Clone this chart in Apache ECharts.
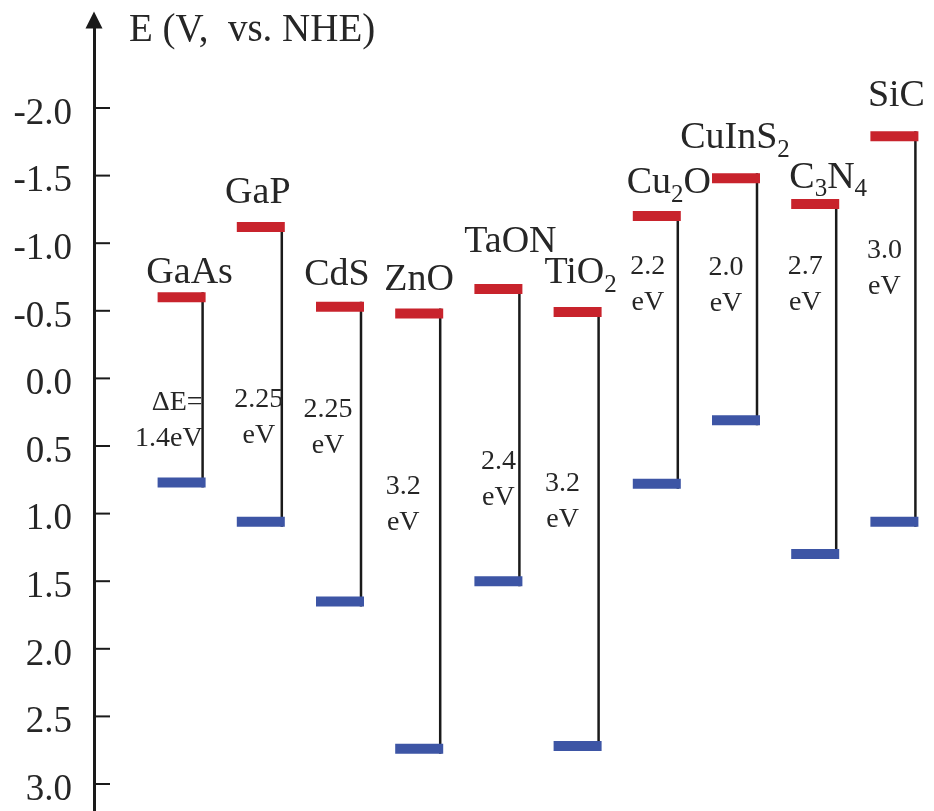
<!DOCTYPE html>
<html>
<head>
<meta charset="utf-8">
<script src="https://cdn.jsdelivr.net/npm/echarts@6/dist/echarts.min.js"></script>
<style>
  html, body { margin: 0; padding: 0; background: #fff; }
  #main { width: 934px; height: 811px; }
</style>
</head>
<body>
<div id="main"></div>
<script>
// band edges, V vs. NHE
const materials = ['GaAs', 'GaP', 'CdS', 'ZnO', 'TaON', 'TiO2', 'Cu2O', 'CuInS2', 'C3N4', 'SiC']
const conductionBand = [-0.60, -1.12, -0.53, -0.48, -0.66, -0.49, -1.20, -1.48, -1.29, -1.79]
const valenceBand = [0.77, 1.06, 1.65, 2.74, 1.50, 2.72, 0.78, 0.31, 1.30, 1.06]
const gapLabels = ['ΔE=\n1.4eV', '2.25\neV', '2.25\neV', '3.2\neV', '2.4\neV', '3.2\neV', '2.2\neV', '2.0\neV', '2.7\neV', '3.0\neV']
const tickValues = [-2.0, -1.5, -1.0, -0.5, 0.0, 0.5, 1.0, 1.5, 2.0, 2.5, 3.0]
const tickMin = -2.0
const tickMax = 3.0
const tickStep = 0.5

// label placement, px relative to the conduction band bar: [nameDx, nameDy, gapDx, gapDy, gapAlign]
const labelLayout = [
  [8, -24, 21, 123, 'right'],
  [-3, -34, -2, 191, 'center'],
  [-3, -32, -12, 121, 'center'],
  [0, -33, -16, 191, 'center'],
  [12, -47, 0, 191, 'center'],
  [3, -39, -15, 190, 'center'],
  [12, -33, -9, 69, 'center'],
  [-1, -40, -10, 107, 'center'],
  [13, -26, -10, 81, 'center'],
  [2, -40, -10, 132, 'center'],
]

const FONT = '"Liberation Serif", "DejaVu Serif", serif'
const TEXT = '#262626'
const AXIS = '#1a1a1a'
const RED = '#c8232c'
const BLUE = '#3d55a5'
// full axis extent (arrow end at the top)
const Y_MIN = -2.65
const Y_MAX = 3.2

// "Cu2O" -> rich text with subscript digits
const richName = (s) =>
  s.replace(/([A-Za-z]+)|(\d+)/g, (m, a, d) => (a ? '{m|' + a + '}' : '{s|' + d + '}'))

const chart = echarts.init(document.getElementById('main'))

const renderItem = (params, api) => {
  const i = params.dataIndex
  const top = api.coord([api.value(0), api.value(1)])
  const bot = api.coord([api.value(0), api.value(2)])
  const lay = labelLayout[i]
  const w = 48
  const h = 10
  const lineX = top[0] + 21
  return {
    type: 'group',
    children: [
      {
        type: 'line',
        shape: { x1: lineX, y1: top[1] - h / 2, x2: lineX, y2: bot[1] + h / 2 },
        style: { stroke: AXIS, lineWidth: 2.5 },
      },
      {
        type: 'rect',
        shape: { x: top[0] - w / 2, y: top[1] - h / 2, width: w, height: h },
        style: { fill: RED },
      },
      {
        type: 'rect',
        shape: { x: bot[0] - w / 2, y: bot[1] - h / 2, width: w, height: h },
        style: { fill: BLUE },
      },
      {
        type: 'text',
        x: top[0] + lay[0],
        y: top[1] + lay[1],
        style: {
          text: richName(materials[i]),
          align: 'center',
          verticalAlign: 'middle',
          fill: TEXT,
          rich: {
            m: { fontFamily: FONT, fontSize: 38, lineHeight: 40, fill: TEXT },
            s: { fontFamily: FONT, fontSize: 25, lineHeight: 16, padding: [24, 0, 0, 0], fill: TEXT },
          },
        },
      },
      {
        type: 'text',
        x: top[0] + lay[2],
        y: top[1] + lay[3],
        style: {
          text: gapLabels[i],
          fontFamily: FONT,
          fontSize: 28,
          lineHeight: 36,
          align: lay[4],
          verticalAlign: 'middle',
          fill: TEXT,
        },
      },
    ],
  }
}

// inward tick marks, drawn across the thin tick grid from its left edge (the axis line) to its right edge
const renderTick = (params, api) => {
  const a = api.coord([0, api.value(0)])
  const b = api.coord([1, api.value(0)])
  return {
    type: 'line',
    shape: { x1: a[0], y1: a[1], x2: b[0], y2: b[1] },
    style: { stroke: AXIS, lineWidth: 2 },
  }
}

const tickAxis = {
  type: 'value',
  inverse: true,
  min: tickMin,
  max: tickMax,
  interval: tickStep,
  axisLine: { show: false },
  axisTick: { show: false },
  axisLabel: { show: false },
  splitLine: { show: false },
}

const option = {
  backgroundColor: '#fff',
  animation: false,
  graphic: [
    {
      type: 'text',
      left: 129,
      top: 11,
      style: {
        text: 'E (V,  vs. NHE)',
        fontFamily: FONT,
        fontSize: 39,
        fill: TEXT,
      },
    },
  ],
  grid: [
    // tick marks, from the axis line inward
    { left: 94, top: 108, width: 16, height: 676 },
    // tick labels
    { left: 94, top: 114, width: 16, height: 676 },
    // band diagram
    { left: 142, top: 20, width: 800, bottom: 0 },
  ],
  xAxis: [
    { type: 'value', gridIndex: 0, min: 0, max: 1, show: false },
    { type: 'value', gridIndex: 1, show: false },
    { type: 'category', gridIndex: 2, data: materials, show: false },
  ],
  yAxis: [
    { ...tickAxis, gridIndex: 0 },
    {
      ...tickAxis,
      gridIndex: 1,
      axisLabel: {
        show: true,
        margin: 22,
        fontFamily: FONT,
        fontSize: 37,
        color: TEXT,
        formatter: (v) => v.toFixed(1),
      },
    },
    {
      type: 'value',
      gridIndex: 2,
      inverse: true,
      min: Y_MIN,
      max: Y_MAX,
      offset: 48,
      splitLine: { show: false },
      axisTick: { show: false },
      axisLabel: { show: false },
      axisLine: {
        show: true,
        symbol: ['none', 'triangle'],
        symbolSize: [17, 17],
        lineStyle: { color: AXIS, width: 3 },
      },
    },
  ],
  series: [
    {
      type: 'custom',
      xAxisIndex: 0,
      yAxisIndex: 0,
      renderItem: renderTick,
      encode: { y: 0 },
      data: tickValues.map((v) => [v]),
    },
    {
      type: 'custom',
      xAxisIndex: 2,
      yAxisIndex: 2,
      renderItem: renderItem,
      encode: { x: 0, y: [1, 2] },
      data: materials.map((m, i) => [i, conductionBand[i], valenceBand[i]]),
    },
  ],
}

chart.setOption(option)
</script>
</body>
</html>
